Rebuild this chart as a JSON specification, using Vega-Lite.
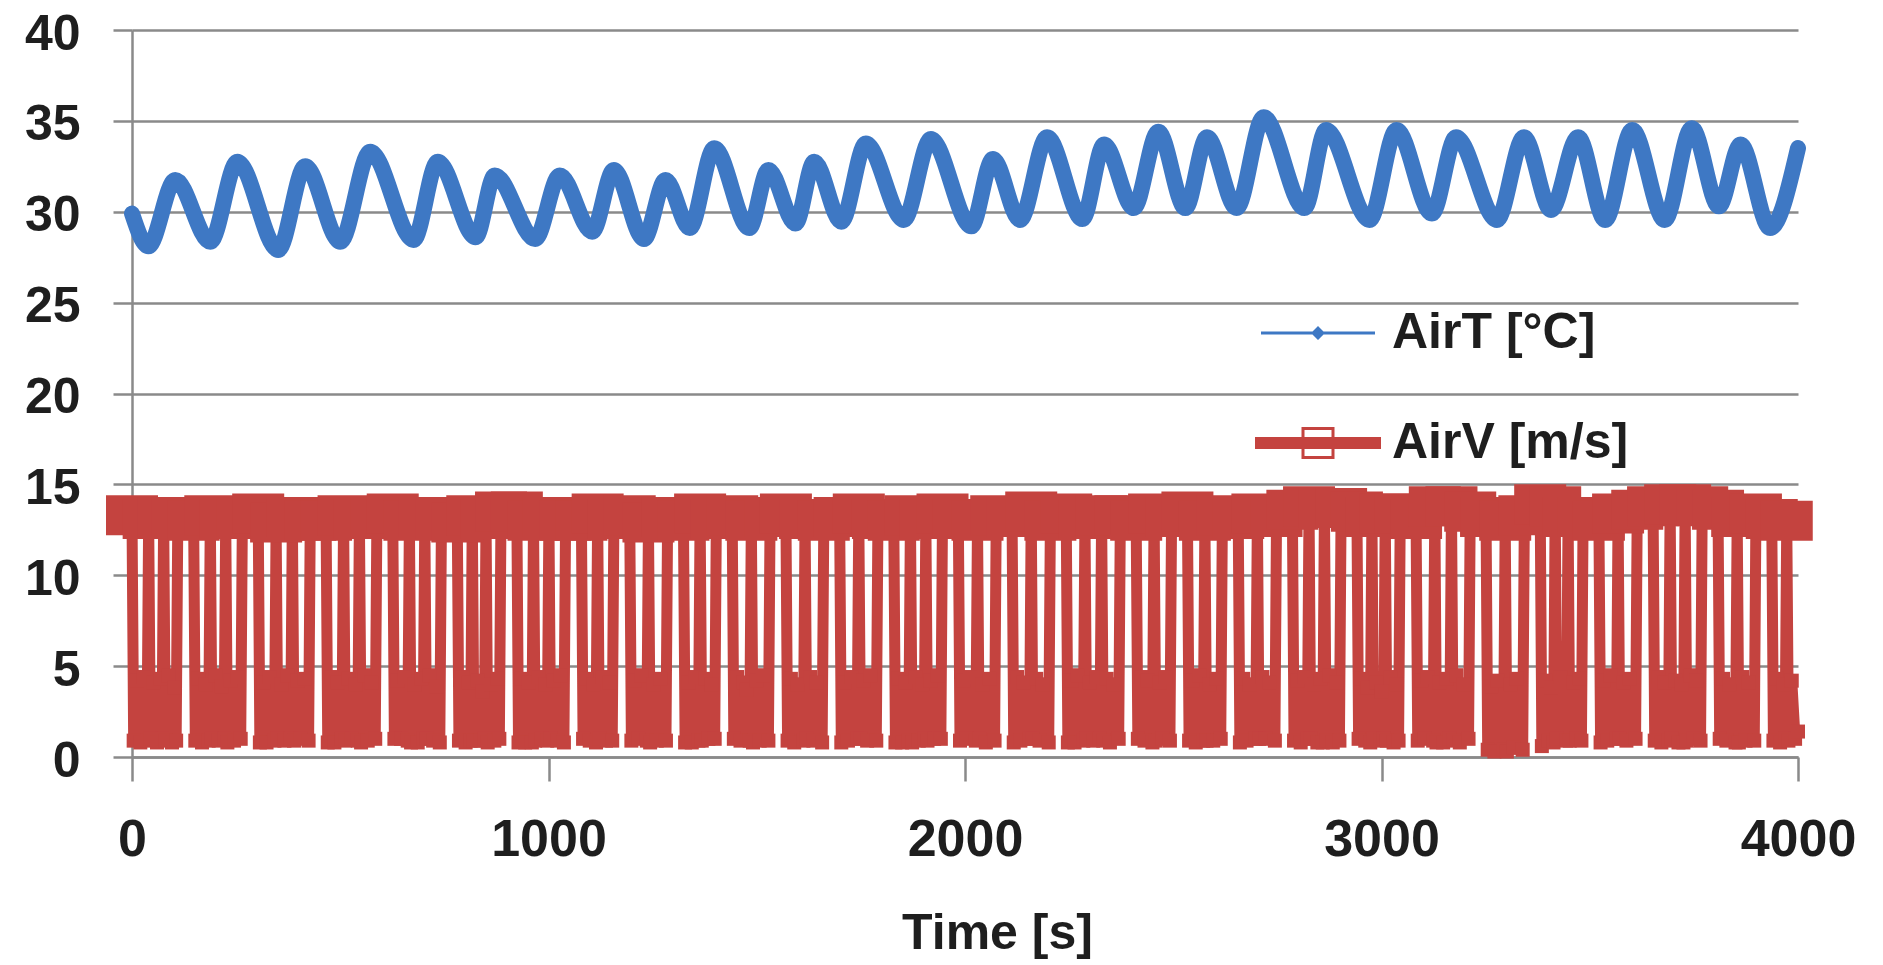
{
  "$schema": "https://vega.github.io/schema/vega-lite/v6.json",
  "width": 1666,
  "height": 727,
  "autosize": {"type": "none"},
  "padding": {"left": 132, "top": 30, "right": 85, "bottom": 208},
  "background": "white",
  "config": {"view": {"stroke": null}},
  "datasets": {
    "airT": [
      {"t":0,"v":29.9},{"t":39,"v":28.1},{"t":104,"v":31.75},{"t":188,"v":28.35},{"t":253,"v":32.75},{"t":351,"v":27.9},{"t":416,"v":32.5},{"t":500,"v":28.35},{"t":572,"v":33.3},{"t":676,"v":28.45},{"t":734,"v":32.75},{"t":825,"v":28.6},{"t":871,"v":32.0},{"t":968,"v":28.5},{"t":1027,"v":32.0},{"t":1105,"v":28.9},{"t":1157,"v":32.3},{"t":1229,"v":28.5},{"t":1281,"v":31.75},{"t":1339,"v":29.1},{"t":1398,"v":33.5},{"t":1482,"v":29.1},{"t":1528,"v":32.3},{"t":1593,"v":29.35},{"t":1638,"v":32.75},{"t":1703,"v":29.45},{"t":1762,"v":33.75},{"t":1853,"v":29.55},{"t":1918,"v":34.0},{"t":2015,"v":29.2},{"t":2067,"v":32.9},{"t":2132,"v":29.55},{"t":2197,"v":34.1},{"t":2282,"v":29.6},{"t":2334,"v":33.7},{"t":2405,"v":30.2},{"t":2464,"v":34.4},{"t":2529,"v":30.2},{"t":2581,"v":34.1},{"t":2652,"v":30.2},{"t":2717,"v":35.2},{"t":2815,"v":30.2},{"t":2867,"v":34.5},{"t":2971,"v":29.55},{"t":3036,"v":34.5},{"t":3121,"v":29.9},{"t":3179,"v":34.1},{"t":3277,"v":29.55},{"t":3342,"v":34.1},{"t":3407,"v":30.1},{"t":3472,"v":34.1},{"t":3537,"v":29.55},{"t":3602,"v":34.5},{"t":3680,"v":29.55},{"t":3745,"v":34.6},{"t":3810,"v":30.3},{"t":3862,"v":33.7},{"t":3933,"v":29.1},{"t":4000,"v":33.5}
    ],
    "airV": [
      {"t":0,"v":13.3},{"t":4,"v":0.9},{"t":12,"v":4.2},{"t":20,"v":0.8},{"t":28,"v":4.4},{"t":36,"v":0.9},{"t":40,"v":13.1},{"t":44,"v":1.0},{"t":52,"v":4.1},{"t":60,"v":0.8},{"t":68,"v":4.3},{"t":72,"v":1.0},{"t":76,"v":13.2},{"t":80,"v":0.9},{"t":88,"v":4.5},{"t":96,"v":0.8},{"t":101,"v":3.8},{"t":106,"v":0.9},{"t":110,"v":13.2},
      {"t":148,"v":13.0},{"t":152,"v":0.9},{"t":160,"v":4.3},{"t":168,"v":0.8},{"t":176,"v":4.0},{"t":184,"v":0.9},{"t":188,"v":13.3},{"t":192,"v":1.0},{"t":200,"v":4.5},{"t":208,"v":0.9},{"t":216,"v":3.9},{"t":221,"v":1.0},{"t":225,"v":13.1},{"t":229,"v":0.8},{"t":237,"v":4.2},{"t":245,"v":0.9},{"t":253,"v":4.4},{"t":261,"v":1.0},{"t":265,"v":13.2},
      {"t":303,"v":13.4},{"t":307,"v":0.8},{"t":315,"v":4.1},{"t":323,"v":0.8},{"t":331,"v":4.4},{"t":342,"v":0.9},{"t":346,"v":12.9},{"t":350,"v":1.0},{"t":358,"v":4.0},{"t":366,"v":0.9},{"t":374,"v":4.5},{"t":381,"v":1.0},{"t":385,"v":13.2},{"t":389,"v":0.9},{"t":397,"v":4.2},{"t":405,"v":1.0},{"t":414,"v":4.3},{"t":424,"v":0.9},{"t":428,"v":13.0},
      {"t":466,"v":13.0},{"t":470,"v":0.8},{"t":478,"v":4.4},{"t":486,"v":0.8},{"t":494,"v":4.1},{"t":504,"v":1.0},{"t":508,"v":13.3},{"t":512,"v":0.9},{"t":520,"v":4.3},{"t":528,"v":1.0},{"t":536,"v":4.0},{"t":542,"v":0.9},{"t":546,"v":13.1},{"t":550,"v":0.8},{"t":558,"v":4.5},{"t":566,"v":0.9},{"t":575,"v":4.1},{"t":584,"v":1.0},{"t":588,"v":13.2},
      {"t":626,"v":13.4},{"t":630,"v":1.0},{"t":638,"v":4.2},{"t":646,"v":1.0},{"t":654,"v":4.4},{"t":662,"v":0.9},{"t":666,"v":13.0},{"t":670,"v":0.8},{"t":678,"v":4.0},{"t":686,"v":0.8},{"t":694,"v":4.3},{"t":699,"v":1.0},{"t":703,"v":13.2},{"t":707,"v":1.0},{"t":715,"v":4.5},{"t":723,"v":0.9},{"t":731,"v":3.9},{"t":739,"v":0.8},{"t":743,"v":13.1},
      {"t":781,"v":12.9},{"t":785,"v":0.9},{"t":793,"v":4.4},{"t":801,"v":0.8},{"t":809,"v":4.1},{"t":813,"v":0.9},{"t":817,"v":13.3},{"t":821,"v":0.9},{"t":829,"v":4.2},{"t":837,"v":0.9},{"t":842,"v":3.6},{"t":846,"v":1.0},{"t":850,"v":13.1},{"t":854,"v":0.8},{"t":862,"v":4.0},{"t":870,"v":0.9},{"t":878,"v":4.3},{"t":882,"v":1.0},{"t":886,"v":13.5},
      {"t":924,"v":13.5},{"t":928,"v":0.8},{"t":936,"v":4.3},{"t":944,"v":0.8},{"t":952,"v":4.1},{"t":960,"v":0.8},{"t":964,"v":13.0},{"t":968,"v":0.9},{"t":976,"v":4.4},{"t":984,"v":1.0},{"t":992,"v":4.0},{"t":997,"v":0.9},{"t":1001,"v":13.2},{"t":1005,"v":1.0},{"t":1013,"v":4.2},{"t":1021,"v":0.9},{"t":1029,"v":4.5},{"t":1037,"v":0.8},{"t":1041,"v":13.0},
      {"t":1079,"v":13.0},{"t":1083,"v":1.0},{"t":1091,"v":4.3},{"t":1099,"v":0.9},{"t":1107,"v":4.0},{"t":1114,"v":0.8},{"t":1118,"v":13.4},{"t":1122,"v":1.0},{"t":1130,"v":4.4},{"t":1138,"v":0.9},{"t":1146,"v":4.1},{"t":1153,"v":0.9},{"t":1157,"v":13.1},
      {"t":1195,"v":13.3},{"t":1199,"v":0.9},{"t":1207,"v":4.2},{"t":1215,"v":1.0},{"t":1223,"v":4.5},{"t":1236,"v":0.9},{"t":1240,"v":12.9},{"t":1244,"v":0.8},{"t":1252,"v":4.0},{"t":1260,"v":0.9},{"t":1268,"v":4.3},{"t":1282,"v":0.9},{"t":1286,"v":13.2},
      {"t":1324,"v":13.0},{"t":1328,"v":0.8},{"t":1336,"v":4.1},{"t":1344,"v":0.8},{"t":1352,"v":4.4},{"t":1360,"v":0.9},{"t":1364,"v":13.4},{"t":1368,"v":0.9},{"t":1376,"v":4.3},{"t":1384,"v":1.0},{"t":1392,"v":4.0},{"t":1399,"v":1.0},{"t":1403,"v":13.1},
      {"t":1441,"v":13.3},{"t":1445,"v":1.0},{"t":1453,"v":4.4},{"t":1461,"v":0.9},{"t":1469,"v":4.1},{"t":1476,"v":3.7},{"t":1483,"v":0.9},{"t":1487,"v":13.0},{"t":1491,"v":0.8},{"t":1499,"v":4.2},{"t":1507,"v":0.9},{"t":1515,"v":4.5},{"t":1528,"v":0.9},{"t":1532,"v":13.2},
      {"t":1570,"v":13.4},{"t":1574,"v":0.9},{"t":1582,"v":4.3},{"t":1590,"v":0.8},{"t":1598,"v":4.0},{"t":1612,"v":0.9},{"t":1616,"v":13.1},{"t":1620,"v":1.0},{"t":1628,"v":4.4},{"t":1636,"v":0.9},{"t":1644,"v":4.1},{"t":1657,"v":0.8},{"t":1661,"v":13.0},
      {"t":1699,"v":13.2},{"t":1703,"v":0.8},{"t":1711,"v":4.1},{"t":1719,"v":0.9},{"t":1727,"v":4.4},{"t":1741,"v":1.0},{"t":1745,"v":13.4},{"t":1749,"v":1.0},{"t":1757,"v":4.2},{"t":1765,"v":0.9},{"t":1773,"v":4.5},{"t":1787,"v":0.9},{"t":1791,"v":13.1},
      {"t":1829,"v":13.0},{"t":1833,"v":0.8},{"t":1841,"v":4.3},{"t":1849,"v":0.8},{"t":1857,"v":4.1},{"t":1865,"v":0.9},{"t":1869,"v":13.3},{"t":1873,"v":0.8},{"t":1881,"v":4.4},{"t":1889,"v":0.9},{"t":1897,"v":4.0},{"t":1902,"v":1.0},{"t":1906,"v":13.1},{"t":1910,"v":0.9},{"t":1918,"v":4.2},{"t":1926,"v":1.0},{"t":1934,"v":4.5},{"t":1942,"v":1.0},{"t":1946,"v":13.4},
      {"t":1984,"v":13.1},{"t":1988,"v":0.9},{"t":1996,"v":4.2},{"t":2004,"v":1.0},{"t":2012,"v":4.4},{"t":2026,"v":0.9},{"t":2030,"v":13.0},{"t":2034,"v":1.0},{"t":2042,"v":4.0},{"t":2050,"v":0.8},{"t":2058,"v":4.3},{"t":2071,"v":0.9},{"t":2075,"v":13.3},
      {"t":2113,"v":13.2},{"t":2117,"v":0.8},{"t":2125,"v":4.4},{"t":2133,"v":0.9},{"t":2141,"v":4.1},{"t":2155,"v":1.0},{"t":2159,"v":13.5},{"t":2163,"v":1.0},{"t":2171,"v":4.3},{"t":2179,"v":0.9},{"t":2187,"v":4.0},{"t":2201,"v":0.8},{"t":2205,"v":13.0},
      {"t":2243,"v":13.4},{"t":2247,"v":0.8},{"t":2255,"v":4.2},{"t":2263,"v":0.8},{"t":2271,"v":4.5},{"t":2284,"v":0.9},{"t":2288,"v":13.1},{"t":2292,"v":1.0},{"t":2300,"v":4.1},{"t":2308,"v":0.9},{"t":2316,"v":4.4},{"t":2324,"v":1.0},{"t":2328,"v":13.3},{"t":2332,"v":0.9},{"t":2340,"v":4.3},{"t":2348,"v":0.8},{"t":2356,"v":4.0},{"t":2369,"v":1.0},{"t":2373,"v":13.3},
      {"t":2411,"v":13.0},{"t":2415,"v":1.0},{"t":2423,"v":4.4},{"t":2431,"v":0.9},{"t":2439,"v":4.2},{"t":2450,"v":0.8},{"t":2454,"v":13.4},{"t":2458,"v":0.9},{"t":2466,"v":4.1},{"t":2474,"v":1.0},{"t":2482,"v":4.4},{"t":2492,"v":0.9},{"t":2496,"v":13.2},
      {"t":2534,"v":13.5},{"t":2538,"v":0.9},{"t":2546,"v":4.2},{"t":2554,"v":0.8},{"t":2562,"v":4.5},{"t":2572,"v":0.9},{"t":2576,"v":13.0},{"t":2580,"v":0.9},{"t":2588,"v":4.0},{"t":2596,"v":0.9},{"t":2604,"v":4.3},{"t":2614,"v":1.0},{"t":2618,"v":13.3},
      {"t":2656,"v":13.1},{"t":2660,"v":0.8},{"t":2668,"v":4.3},{"t":2676,"v":0.9},{"t":2684,"v":4.0},{"t":2698,"v":1.0},{"t":2702,"v":13.4},{"t":2706,"v":1.0},{"t":2714,"v":4.4},{"t":2722,"v":1.0},{"t":2730,"v":4.1},{"t":2744,"v":0.9},{"t":2748,"v":13.2},
      {"t":2786,"v":13.6},{"t":2790,"v":0.9},{"t":2798,"v":4.2},{"t":2806,"v":0.8},{"t":2814,"v":4.4},{"t":2822,"v":1.0},{"t":2826,"v":13.8},{"t":2830,"v":1.0},{"t":2838,"v":4.0},{"t":2846,"v":0.8},{"t":2854,"v":4.3},{"t":2859,"v":0.8},{"t":2863,"v":13.7},{"t":2867,"v":0.9},{"t":2875,"v":4.5},{"t":2883,"v":0.8},{"t":2891,"v":4.1},{"t":2899,"v":0.9},{"t":2903,"v":13.7},
      {"t":2941,"v":13.5},{"t":2945,"v":1.0},{"t":2953,"v":4.3},{"t":2961,"v":0.9},{"t":2967,"v":3.8},{"t":2973,"v":0.8},{"t":2977,"v":13.2},{"t":2981,"v":1.0},{"t":2989,"v":4.1},{"t":2997,"v":0.9},{"t":3001,"v":3.6},{"t":3005,"v":1.0},{"t":3009,"v":13.4},{"t":3013,"v":0.9},{"t":3021,"v":4.4},{"t":3029,"v":0.8},{"t":3037,"v":4.0},{"t":3041,"v":0.9},{"t":3045,"v":13.4},
      {"t":3083,"v":13.1},{"t":3087,"v":0.9},{"t":3095,"v":4.2},{"t":3103,"v":1.0},{"t":3111,"v":4.4},{"t":3124,"v":0.9},{"t":3128,"v":13.8},{"t":3132,"v":0.8},{"t":3140,"v":4.1},{"t":3148,"v":0.8},{"t":3156,"v":4.3},{"t":3164,"v":1.0},{"t":3168,"v":13.8},{"t":3172,"v":0.9},{"t":3180,"v":4.5},{"t":3188,"v":0.8},{"t":3196,"v":4.0},{"t":3209,"v":1.0},{"t":3213,"v":13.5},
      {"t":3251,"v":13.2},{"t":3255,"v":0.4},{"t":3263,"v":3.9},{"t":3271,"v":0.3},{"t":3279,"v":4.2},{"t":3293,"v":0.4},{"t":3297,"v":13.0},{"t":3301,"v":0.3},{"t":3309,"v":4.0},{"t":3317,"v":0.5},{"t":3325,"v":4.3},{"t":3339,"v":0.4},{"t":3343,"v":13.3},
      {"t":3381,"v":13.9},{"t":3385,"v":0.6},{"t":3393,"v":4.2},{"t":3401,"v":0.9},{"t":3407,"v":3.8},{"t":3413,"v":0.8},{"t":3417,"v":13.8},{"t":3421,"v":1.0},{"t":3430,"v":4.4},{"t":3444,"v":0.9},{"t":3448,"v":13.2},{"t":3452,"v":0.9},{"t":3460,"v":4.1},{"t":3468,"v":1.0},{"t":3476,"v":4.3},{"t":3480,"v":0.9},{"t":3484,"v":13.2},
      {"t":3522,"v":13.0},{"t":3526,"v":0.8},{"t":3534,"v":4.2},{"t":3542,"v":0.9},{"t":3550,"v":4.5},{"t":3564,"v":1.0},{"t":3568,"v":13.4},{"t":3572,"v":1.0},{"t":3580,"v":4.1},{"t":3588,"v":0.9},{"t":3596,"v":4.3},{"t":3610,"v":1.0},{"t":3614,"v":13.6},
      {"t":3652,"v":13.8},{"t":3656,"v":0.9},{"t":3664,"v":4.4},{"t":3672,"v":0.8},{"t":3680,"v":4.1},{"t":3689,"v":0.9},{"t":3693,"v":13.9},{"t":3697,"v":1.0},{"t":3705,"v":4.2},{"t":3713,"v":0.8},{"t":3721,"v":4.0},{"t":3725,"v":0.8},{"t":3729,"v":13.9},{"t":3733,"v":0.9},{"t":3741,"v":4.5},{"t":3749,"v":1.0},{"t":3757,"v":4.2},{"t":3766,"v":0.9},{"t":3770,"v":13.8},
      {"t":3808,"v":13.6},{"t":3812,"v":1.0},{"t":3820,"v":4.3},{"t":3828,"v":0.9},{"t":3836,"v":4.0},{"t":3850,"v":0.8},{"t":3854,"v":13.2},{"t":3858,"v":0.8},{"t":3866,"v":4.4},{"t":3874,"v":0.9},{"t":3882,"v":4.1},{"t":3895,"v":0.9},{"t":3899,"v":13.4},
      {"t":3937,"v":13.1},{"t":3941,"v":0.9},{"t":3949,"v":4.3},{"t":3957,"v":0.8},{"t":3965,"v":4.0},{"t":3969,"v":1.0},{"t":3973,"v":13.0},{"t":3977,"v":0.9},{"t":3985,"v":4.2},{"t":3993,"v":1.0},{"t":4000,"v":1.4}
    ]
  },
  "encoding": {
    "x": {
      "field": "t", "type": "quantitative",
      "scale": {"domain": [0, 4000], "nice": false, "zero": false},
      "axis": {
        "values": [0, 1000, 2000, 3000, 4000],
        "format": "d",
        "grid": false,
        "domainColor": "#8a8a8a", "domainWidth": 2.5,
        "tickColor": "#8a8a8a", "tickWidth": 2.5, "tickSize": 24,
        "labelFont": "Liberation Sans", "labelFontWeight": "bold", "labelFontSize": 52, "labelColor": "#1e1e1e",
        "labelPadding": 33, "labelFlush": false, "labelOverlap": false,
        "title": "Time [s]",
        "titleFont": "Liberation Sans", "titleFontWeight": "bold", "titleFontSize": 50, "titleColor": "#1e1e1e",
        "titleX": 865, "titleY": 191, "titleAlign": "center", "titleBaseline": "alphabetic", "titleAnchor": null
      }
    },
    "y": {
      "field": "v", "type": "quantitative",
      "scale": {"domain": [0, 40], "nice": false, "zero": false},
      "axis": {
        "values": [0, 5, 10, 15, 20, 25, 30, 35, 40],
        "grid": true, "gridColor": "#8a8a8a", "gridWidth": 2.5,
        "domainColor": "#8a8a8a", "domainWidth": 2.5,
        "tickColor": "#8a8a8a", "tickWidth": 2.5, "tickSize": 19,
        "labelFont": "Liberation Sans", "labelFontWeight": "bold", "labelFontSize": 50, "labelColor": "#1e1e1e",
        "labelPadding": 33, "labelOffset": 4, "labelOverlap": false,
        "title": null
      }
    }
  },
  "layer": [
    {
      "data": {"name": "airV"},
      "mark": {"type": "line", "strokeWidth": 11, "strokeJoin": "round", "strokeCap": "round"},
      "encoding": {
        "color": {
          "datum": "AirV [m/s]",
          "scale": {"domain": ["AirT [°C]", "AirV [m/s]"], "range": ["#3E78C4", "#C4433F"]},
          "legend": {
            "title": null, "orient": "none", "legendX": 1136, "legendY": 253,
            "padding": 0, "offset": 0, "symbolSize": 10000, "rowPadding": 35,
            "labelOffset": 24, "labelLimit": 500,
            "labelFont": "Liberation Sans", "labelFontWeight": "bold", "labelFontSize": 50, "labelColor": "#1e1e1e",
            "encode": {
              "symbols": {
                "update": {
                  "shape": {"signal": "datum.value === 'AirT [°C]' ? 'M-1.14,-0.03H1.14V0.03H-1.14Z M0,-0.14L0.14,0L0,0.14L-0.14,0Z' : 'M-1.26,-0.12H1.26V0.12H-1.26Z M-0.33,-0.32H0.33V0.32H-0.33Z M-0.27,-0.26V0.26H0.27V-0.26Z'"},
                  "size": {"value": 10000},
                  "fill": {"signal": "datum.value === 'AirT [°C]' ? '#3E78C4' : '#C4433F'"},
                  "fillOpacity": {"value": 1},
                  "stroke": {"value": "transparent"},
                  "strokeWidth": {"value": 0},
                  "opacity": {"value": 1}
                }
              }
            }
          }
        }
      }
    },
    {
      "data": {"name": "airV"},
      "transform": [{"filter": "datum.v > 8"}],
      "mark": {"type": "point", "shape": "M-1,-0.77H1V0.77H-1Z", "filled": true, "size": 2704, "opacity": 1, "strokeWidth": 0},
      "encoding": {"color": {"datum": "AirV [m/s]"}}
    },
    {
      "data": {"name": "airV"},
      "transform": [{"filter": "datum.v <= 8"}],
      "mark": {"type": "square", "filled": true, "size": 196, "opacity": 1, "strokeWidth": 0},
      "encoding": {"color": {"datum": "AirV [m/s]"}}
    },
    {
      "data": {"name": "airT"},
      "mark": {"type": "line", "strokeWidth": 16, "interpolate": "monotone", "strokeJoin": "round", "strokeCap": "round"},
      "encoding": {"color": {"datum": "AirT [°C]"}}
    }
  ]
}
